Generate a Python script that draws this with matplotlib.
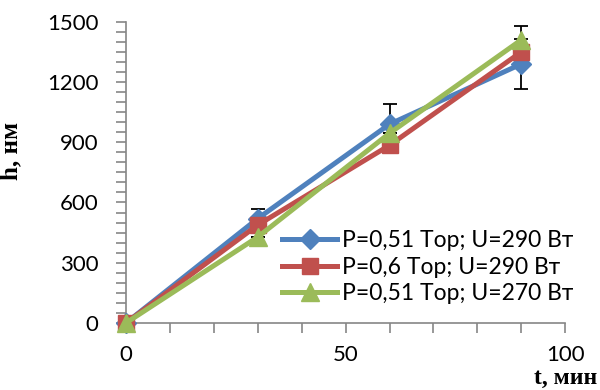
import matplotlib.pyplot as plt
from matplotlib.ticker import MultipleLocator

# time, min
t = [0, 30, 60, 90]

# thickness h, nm
h_051_290 = [0, 520, 990, 1290]
h_06_290 = [0, 488, 885, 1350]
h_051_270 = [0, 428, 945, 1410]

# error bars
err_051_290 = [0, 50, 100, 125]
err_051_270 = [0, 0, 0, 70]

labels = ['P=0,51 Тор; U=290 Вт', 'P=0,6 Тор; U=290 Вт', 'P=0,51 Тор; U=270 Вт']

plt.rcParams['font.family'] = ['Lato', 'DejaVu Sans']

fig = plt.figure(figsize=(6, 3.9), dpi=100)
ax = fig.add_axes([0.21, 0.172, 0.732, 0.772])

ax.errorbar(t, h_051_270, yerr=err_051_270, fmt='none', ecolor='black',
            elinewidth=1.3, capsize=5, capthick=1.3, zorder=1)
ax.errorbar(t, h_051_290, yerr=err_051_290, fmt='none', ecolor='black',
            elinewidth=1.3, capsize=5, capthick=1.3, zorder=1)

ax.plot(t, h_051_290, color='#4F81BD', lw=3.6, marker='D', ms=10,
        label=labels[0], zorder=3, clip_on=False)
ax.plot(t, h_06_290, color='#C0504D', lw=3.6, marker='s', ms=12,
        label=labels[1], zorder=4, clip_on=False)
ax.plot(t, h_051_270, color='#9BBB59', lw=3.6, marker='^', ms=13,
        label=labels[2], zorder=5, clip_on=False)

ax.set_xlim(0, 100)
ax.set_ylim(0, 1500)
ax.xaxis.set_major_locator(MultipleLocator(50))
ax.xaxis.set_minor_locator(MultipleLocator(10))
ax.yaxis.set_major_locator(MultipleLocator(300))
ax.yaxis.set_minor_locator(MultipleLocator(50))

for s in ['top', 'right']:
    ax.spines[s].set_visible(False)
for s in ['left', 'bottom']:
    ax.spines[s].set_color('#868686')
    ax.spines[s].set_linewidth(1.2)

ax.tick_params(which='both', direction='out', color='#868686', width=1.2)
ax.tick_params(which='major', length=7, labelsize=16)
ax.tick_params(which='minor', length=7)
ax.tick_params(axis='x', pad=9)
ax.tick_params(axis='y', pad=13)

ax.set_ylabel('h, нм', family='Liberation Serif', fontweight='bold', fontsize=18)
ax.yaxis.set_label_coords(-0.237, 0.57)
fig.text(0.995, 0.002, 't, мин', family='Liberation Serif', fontweight='bold',
         fontsize=17, ha='right', va='bottom')

leg = ax.legend(loc='upper left', bbox_to_anchor=(282 / 600, 1 - 230 / 390),
                bbox_transform=fig.transFigure, frameon=False,
                fontsize=16.5, handlelength=2.4, handletextpad=0.22,
                labelspacing=0.25, borderpad=0, borderaxespad=0)

fig.savefig('out.png', dpi=100)
